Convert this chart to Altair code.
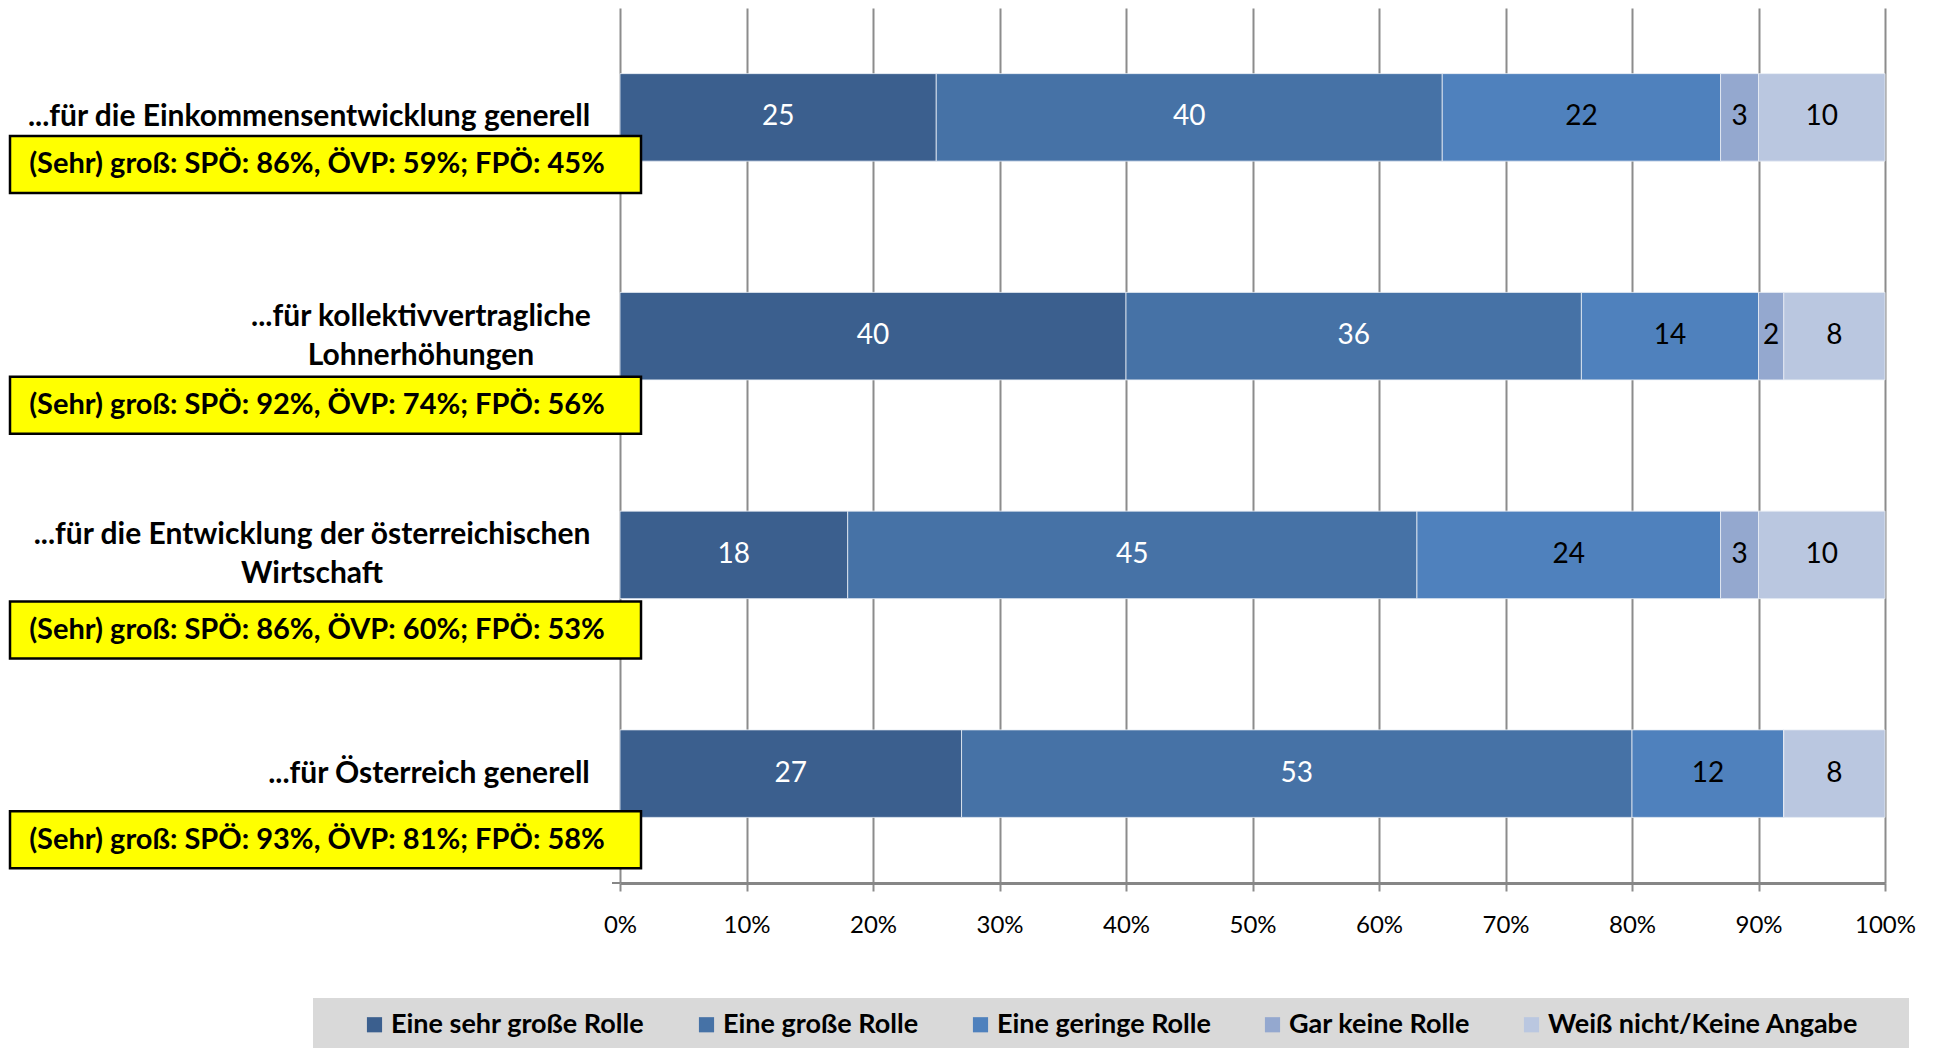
import altair as alt
import pandas as pd

# --- data -----------------------------------------------------------------
CATEGORY_LINES = [
    ["...für die Einkommensentwicklung generell"],
    ["...für kollektivvertragliche", "Lohnerhöhungen"],
    ["...für die Entwicklung der österreichischen", "Wirtschaft"],
    ["...für Österreich generell"],
]
CATEGORIES = [" ".join(lines) for lines in CATEGORY_LINES]

SERIES = [
    "Eine sehr große Rolle",
    "Eine große Rolle",
    "Eine geringe Rolle",
    "Gar keine Rolle",
    "Weiß nicht/Keine Angabe",
]
SEHR_GROSS = [25, 40, 18, 27]
GROSS = [40, 36, 45, 53]
GERING = [22, 14, 24, 12]
GAR_KEINE = [3, 2, 3, 0]
WEISS_NICHT = [10, 8, 10, 8]

# share answering "(sehr) groß" by party preference
SPOE = [86, 92, 86, 93]
OEVP = [59, 74, 60, 81]
FPOE = [45, 56, 53, 58]

X_TICKS = list(range(0, 101, 10))

# --- style / layout ---------------------------------------------------------
COLORS = ["#3B5F8E", "#4672A6", "#4F81BD", "#94A8CF", "#BAC7E0"]
WHITE_TEXT_SERIES = SERIES[:2]
FONT = "Lato"
GRID = "#8C8C8C"

PLOT_W, PLOT_H = 1265, 875
LABEL_CENTER_X = [-311, -199, -308, -191]   # centre of each category text block
LINE_HEIGHT = 39
BOX_SHIFT = [47, 69, 75, 66]                # yellow note offset below bar centre
BOX_X0, BOX_X1 = -610, 21

values = [SEHR_GROSS, GROSS, GERING, GAR_KEINE, WEISS_NICHT]
rows = []
for s_idx, (name, vals) in enumerate(zip(SERIES, values)):
    for cat, v in zip(CATEGORIES, vals):
        rows.append({"cat": cat, "series": name, "value": v, "order": s_idx})
df = pd.DataFrame(rows)

Y = alt.Y(
    "cat:N",
    sort=CATEGORIES,
    scale=alt.Scale(domain=CATEGORIES, paddingInner=0.6, paddingOuter=0.3),
    axis=None,
)

color = alt.Color(
    "series:N",
    sort=SERIES,
    scale=alt.Scale(domain=SERIES, range=COLORS),
    legend=alt.Legend(
        orient="none",
        legendX=-259,
        legendY=1003,
        direction="horizontal",
        title=None,
        symbolType="square",
        symbolSize=230,
        symbolStrokeWidth=0,
        labelFont=FONT,
        labelFontSize=27,
        labelFontWeight="bold",
        labelColor="black",
        labelOffset=3,
        columnPadding=48,
        padding=0,
        labelLimit=0,
    ),
)

bars = (
    alt.Chart(df)
    .mark_bar(stroke="#E8EDF5", strokeWidth=0.8)
    .encode(
        x=alt.X(
            "value:Q",
            stack="zero",
            scale=alt.Scale(domain=[0, 100], nice=False),
            axis=alt.Axis(
                values=X_TICKS,
                labelExpr="datum.value + '%'",
                labelFlush=False,
                title=None,
                grid=True,
                gridColor=GRID,
                gridWidth=2,
                domainColor="#868686",
                domainWidth=3,
                tickColor=GRID,
                tickWidth=2,
                tickSize=8,
                labelFont=FONT,
                labelFontSize=24,
                labelColor="black",
                labelPadding=22,
            ),
        ),
        y=alt.Y(
            "cat:N",
            sort=CATEGORIES,
            scale=alt.Scale(domain=CATEGORIES, paddingInner=0.6, paddingOuter=0.3),
            axis=alt.Axis(
                labels=False,
                title=None,
                grid=False,
                domainColor="#868686",
                domainWidth=2,
                tickColor="#868686",
                tickWidth=2,
                tickSize=8,
                bandPosition=-0.75,
            ),
        ),
        color=color,
        order=alt.Order("order:Q"),
    )
)

bar_labels = (
    alt.Chart(df)
    .transform_filter("datum.value > 0")
    .transform_stack(
        stack="value", groupby=["cat"], as_=["x0", "x1"],
        sort=[alt.SortField("order", order="ascending")],
    )
    .transform_calculate(mid="(datum.x0 + datum.x1) / 2")
    .mark_text(font=FONT, fontSize=28, baseline="middle", align="center")
    .encode(
        x=alt.X("mid:Q"),
        y=Y,
        text=alt.Text("value:Q"),
        color=alt.condition(
            alt.FieldOneOfPredicate(field="series", oneOf=WHITE_TEXT_SERIES),
            alt.value("white"),
            alt.value("black"),
        ),
    )
)

layers = [bars, bar_labels]

# category texts and yellow party notes, one per row
for i, cat in enumerate(CATEGORIES):
    row = alt.Chart(pd.DataFrame({"cat": [cat]}))
    lines = CATEGORY_LINES[i]
    note = f"(Sehr) groß: SPÖ: {SPOE[i]}%, ÖVP: {OEVP[i]}%; FPÖ: {FPOE[i]}%"
    layers.append(
        row.mark_text(
            text=lines, font=FONT, fontSize=30, fontWeight="bold",
            align="center", baseline="middle", lineHeight=LINE_HEIGHT,
            dy=-(len(lines) - 1) * LINE_HEIGHT / 2, color="black",
        ).encode(y=Y, x=alt.value(LABEL_CENTER_X[i]))
    )
    layers.append(
        row.mark_rect(
            height=57, yOffset=BOX_SHIFT[i], fill="#FFFF00",
            stroke="black", strokeWidth=2.5,
        ).encode(y=Y, x=alt.value(BOX_X0), x2=alt.value(BOX_X1))
    )
    layers.append(
        row.mark_text(
            text=note, font=FONT, fontSize=29, fontWeight="bold",
            align="center", baseline="middle", yOffset=BOX_SHIFT[i], color="black",
        ).encode(y=Y, x=alt.value(-303))
    )

# closing tick at the bottom of the category axis
layers.append(
    alt.Chart(pd.DataFrame({"v": [0]}))
    .mark_rule(color="#868686", strokeWidth=2)
    .encode(x=alt.value(-8), x2=alt.value(0), y=alt.value(PLOT_H))
)

# grey band behind the legend
layers.append(
    alt.Chart(pd.DataFrame({"v": [0]}))
    .mark_rect(fill="#D9D9D9")
    .encode(x=alt.value(-307), x2=alt.value(1289), y=alt.value(990), y2=alt.value(1045))
)

chart = (
    alt.layer(*layers)
    .properties(
        width=PLOT_W,
        height=PLOT_H,
        autosize=alt.AutoSizeParams(type="none"),
        padding={"left": 620, "top": 8, "right": 52, "bottom": 165},
        background="white",
    )
    .configure_view(stroke=None)
)

chart.save("out.html", embed_options={"renderer": "svg", "actions": False})
